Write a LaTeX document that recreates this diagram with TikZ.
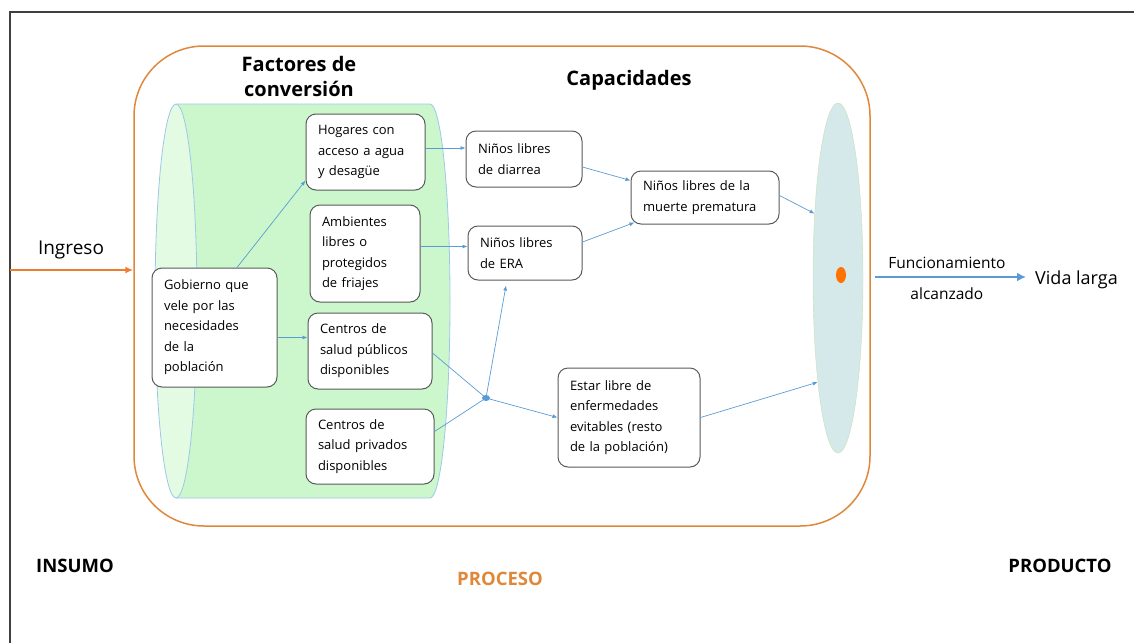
\documentclass[tikz,border=0pt]{standalone}
\usepackage{fontspec}
\setmainfont{Open Sans}
\usetikzlibrary{arrows.meta,shapes.geometric}
\definecolor{procorange}{HTML}{E0883A}
\definecolor{inorange}{HTML}{ED7D31}
\definecolor{linkblue}{HTML}{5B9BD5}
\definecolor{cylgreen}{HTML}{CCF7CC}
\definecolor{cyllight}{HTML}{E2FBE2}
\definecolor{cylline}{HTML}{9DC8EA}
\definecolor{funcfill}{HTML}{D5E8EA}
\definecolor{funcline}{HTML}{C5E0B4}
\definecolor{boxline}{HTML}{5A5A5A}
\begin{document}
\begin{tikzpicture}[x=1pt,y=-1pt,
  box/.style={draw=boxline,fill=white,line width=1pt,rounded corners=10pt,align=left,
    inner xsep=12pt,inner ysep=0pt,font=\fontsize{13}{20.5}\selectfont},
  titletext/.style={font=\fontsize{20}{25}\selectfont\bfseries,align=center,inner sep=0pt},
  stagetext/.style={font=\fontsize{18.5}{20}\selectfont\bfseries,inner sep=0pt},
  link/.style={draw=linkblue,line width=0.7pt,-{Latex[length=5pt,width=4pt]}},
  plainlink/.style={draw=linkblue,line width=0.7pt}]
  \useasboundingbox (0,0) rectangle (1134,643);
  \draw[gray!50!black,line width=1.3pt] (10,643) -- (10,12) -- (1134,12);
  \node[draw=procorange,line width=1.5pt,rounded corners=70pt,minimum width=736pt,minimum height=480pt] (proc) at (502,286) {};
  \fill[cylgreen] (176,104) -- (430,104) arc[start angle=90,end angle=-90,x radius=20pt,y radius=197pt] -- (176,498) -- cycle;
  \draw[cylline,line width=0.8pt] (176,104) -- (430,104) arc[start angle=90,end angle=-90,x radius=20pt,y radius=197pt] -- (176,498);
  \draw[cylline,line width=0.8pt,fill=cyllight] (176,301) ellipse[x radius=21pt,y radius=197pt];
  \node[ellipse,draw=funcline,fill=funcfill,minimum width=50pt,minimum height=350pt,inner sep=0pt] (func) at (838,278) {};
  \node[ellipse,fill=orange!90!red,minimum width=10pt,minimum height=16pt,inner sep=0pt] (punto) at (841,275) {};
  \node[titletext] (factores) at (299,76) {Factores de\\conversión};
  \node[titletext] (capac) at (629,80) {Capacidades};
  \node[box,text width=101pt,minimum height=119pt] (gob) at (214.5,327.5) {Gobierno que\\vele por las\\necesidades\\de la\\población};
  \node[box,text width=95pt,minimum height=76pt] (hog) at (365.5,152) {Hogares con\\acceso a agua\\y desagüe};
  \node[box,text width=86pt,minimum height=97pt] (amb) at (365,253.5) {Ambientes\\libres o\\protegidos\\de friajes};
  \node[box,text width=100pt,minimum height=76pt] (pub) at (370,351) {Centros de\\salud públicos\\disponibles};
  \node[box,text width=104pt,minimum height=75pt] (pri) at (370,446.5) {Centros de\\salud privados\\disponibles};
  \node[box,text width=92pt,minimum height=56pt] (dia) at (524,159) {Niños libres\\de diarrea};
  \node[box,text width=90pt,minimum height=54pt] (era) at (525,253) {Niños libres\\de ERA};
  \node[box,text width=124pt,minimum height=53pt] (mue) at (705,197.5) {Niños libres de la\\muerte prematura};
  \node[box,text width=118pt,minimum height=99pt] (lib) at (629,417.5) {Estar libre de\\enfermedades\\evitables (resto\\de la población)};
  \node[ellipse,fill=linkblue,minimum width=8pt,minimum height=6pt,inner sep=0pt] (nudo) at (486,398) {};
  \draw[link] ([xshift=22.5pt]gob.north) -- ([yshift=10pt]hog.south west);
  \draw[link] ([yshift=-10pt]gob.east) -- ([yshift=-10pt]gob.east -| pub.west);
  \draw[link] ([yshift=4pt]hog.east) -- ([yshift=4pt]hog.east -| dia.west);
  \draw[link] ([yshift=7pt]amb.east) -- ([yshift=7pt]amb.east -| era.west);
  \draw[link] ([yshift=-8pt]dia.east) -- ([yshift=17pt]mue.west);
  \draw[link] ([yshift=11pt]era.east) -- ([xshift=4pt,yshift=2pt]mue.south west);
  \draw[link] ([yshift=2pt]mue.east) -- (func.110);
  \draw[plainlink] ([yshift=-2pt]pub.east) -- (nudo.center);
  \draw[plainlink] ([yshift=15pt]pri.east) -- (nudo.center);
  \draw[link] (nudo.center) -- ([xshift=-19pt,yshift=-5pt]era.south);
  \draw[link] (nudo.center) -- (lib.west);
  \draw[link] (lib.east) -- (func.259);
  \coordinate (entrada) at (10,270);
  \node[font=\fontsize{19}{22}\selectfont,inner sep=0pt] (ingreso) at (71,250) {Ingreso};
  \draw[draw=inorange,line width=1.8pt,-{Latex[length=8pt,width=7pt]}] (entrada) -- (entrada -| proc.west);
  \node[font=\fontsize{18}{20}\selectfont,inner sep=0pt,anchor=west] (vida) at (1035,280) {Vida larga};
  \draw[draw=linkblue,line width=2.5pt,-{Latex[length=9pt,width=9pt]},shorten >=9pt] ([xshift=4pt,yshift=9pt]proc.east) -- ([yshift=9pt]proc.east -| vida.west)
    node[pos=0.45,above=7pt,font=\fontsize{15.5}{18}\selectfont,inner sep=0pt] (funcion) {Funcionamiento}
    node[pos=0.45,below=9pt,font=\fontsize{15.5}{18}\selectfont,inner sep=0pt] (alcanz) {alcanzado};
  \node[stagetext] (insumo) at (75,566) {INSUMO};
  \node[stagetext] (producto) at (1060,566) {PRODUCTO};
  \node[stagetext,text=procorange] (proceso) at (500,579) {PROCESO};
\end{tikzpicture}
\end{document}
